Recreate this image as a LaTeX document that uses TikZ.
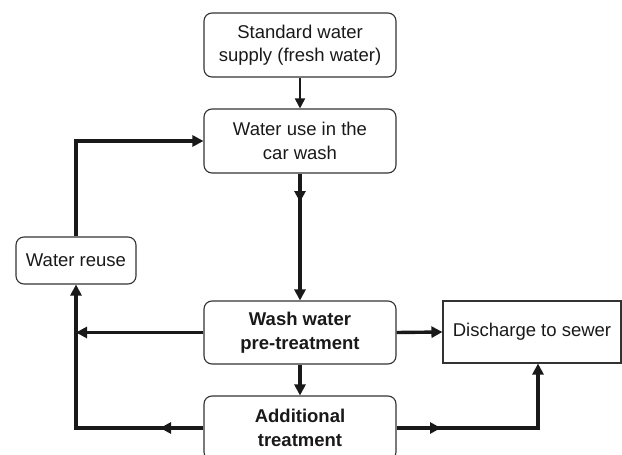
\documentclass[tikz,border=0pt]{standalone}
\usepackage{fontspec}
\setmainfont{Liberation Sans}
\usetikzlibrary{arrows.meta}

\begin{document}
\begin{tikzpicture}[x=1pt,y=-1pt,
	box/.style={draw=black!80, line width=1.1pt, rounded corners=8pt, text=black!90, align=center, inner sep=0pt, font=\fontsize{18.5}{23.5}\selectfont},
	sqbox/.style={box, rounded corners=0pt},
	pipe/.style={line width=3.4pt, draw=black!90},
	flow/.style={pipe, -{Triangle[length=11pt,width=11pt]}},
	thinflow/.style={line width=1.8pt, draw=black!90, -{Triangle[length=10pt,width=10pt]}}]
	\useasboundingbox (0,0) rectangle (622,455);
	
	\node[box, minimum width=192pt, minimum height=64pt] (supply) at (300,45) {Standard water\\supply (fresh water)};
	\node[box, minimum width=192pt, minimum height=64pt] (use) at (300,141) {Water use in the\\car wash};
	\node[box, minimum width=120pt, minimum height=47pt] (reuse) at (76,260.5) {Water reuse};
	\node[box, minimum width=192pt, minimum height=63pt] (wash) at (300,332.5) {\bfseries Wash water\\\bfseries pre-treatment};
	\node[sqbox, minimum width=178pt, minimum height=62pt] (sewer) at (532,332) {Discharge to sewer};
	\node[box, minimum width=192pt, minimum height=64pt] (extra) at (300,428) {\bfseries Additional\\\bfseries treatment};
	
	\coordinate (mid) at (300,202);
	\coordinate (wl) at (reuse.south |- wash.west);
	\coordinate (al) at (160,428);
	\coordinate (bl) at (reuse.south |- extra.west);
	\coordinate (ar) at (441,428);
	\coordinate (br) at (538,428);
	
	\draw[thinflow] (supply) -- (use);
	\draw[flow] (use) -- (wash);
	\draw[flow] (use) -- (mid);
	\draw[flow] (wash) -- (extra);
	\draw[flow] (reuse.north) |- (use.west);
	\draw[flow] (wash.west) -- (wl);
	\draw[flow] (wash.east) -- (sewer.west);
	\draw[flow] (extra.west) -- (bl) -- (reuse.south);
	\draw[flow] (extra.west) -- (al);
	\draw[flow] (extra.east) -- (br) -- (br |- sewer.south);
	\draw[flow] (extra.east) -- (ar);
\end{tikzpicture}
\end{document}
